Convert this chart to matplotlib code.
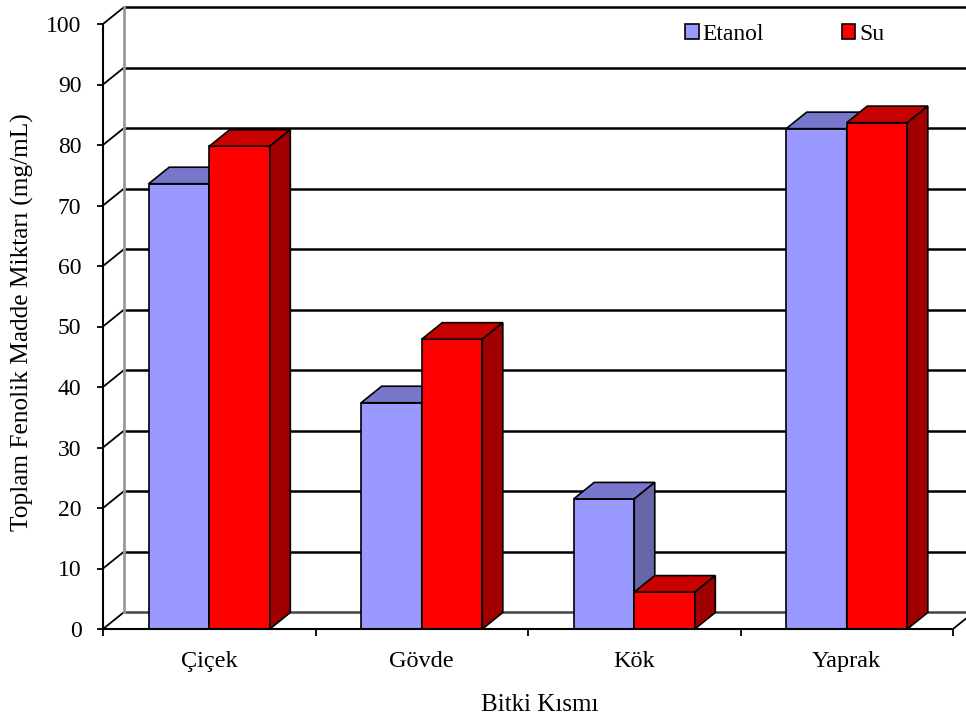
import numpy as np
import matplotlib.pyplot as plt
from matplotlib.patches import Polygon, Patch

plt.rcParams['font.family'] = ['Liberation Serif', 'DejaVu Serif']

parts = ["Çiçek", "Gövde", "Kök", "Yaprak"]
etanol = [73.6, 37.4, 21.5, 82.7]
su = [79.8, 47.9, 6.1, 83.7]
series_names = ["Etanol", "Su"]

# front, top and side face colours for each series
blue_faces = ("#9999FF", "#7777CC", "#6666A8")
red_faces = ("#FF0000", "#C80000", "#A00000")

dx, dy = 0.0965, 2.73   # oblique depth of the 3-D walls and bars
width = 0.285

fig = plt.figure(figsize=(9.66, 7.17), dpi=100)
ax = fig.add_axes([103 / 966, 88 / 717, 850 / 966, 605 / 717])
ax.set_xlim(-0.5, 3.5)
ax.set_ylim(0, 100)

# back wall gridlines, side wall diagonals and floor edges
levels = np.arange(0, 101, 10)
for v in levels:
    ax.plot([-0.5 + dx, 3.5 + dx + 0.2], [v + dy, v + dy],
            color="black" if v else "#444444", lw=1.8, clip_on=False, zorder=1)
    ax.plot([-0.5, -0.5 + dx], [v, v + dy], color="black", lw=1.3,
            clip_on=False, zorder=1)
ax.plot([-0.5 + dx, -0.5 + dx], [dy, 100 + dy], color="#999999", lw=2,
        clip_on=False, zorder=1)
ax.plot([3.5, 3.5 + dx], [0, dy], color="black", lw=1.3, clip_on=False, zorder=1)

x = np.arange(len(parts))
for vals, offset, (front, top, side) in [(etanol, -width, blue_faces),
                                         (su, 0.0, red_faces)]:
    bars = ax.bar(x + offset, vals, width, align="edge", color=front,
                  edgecolor="black", lw=1.2, zorder=3, clip_on=False)
    for b in bars:
        x0 = b.get_x()
        x1 = x0 + b.get_width()
        h = b.get_height()
        ax.add_patch(Polygon([(x0, h), (x0 + dx, h + dy), (x1 + dx, h + dy), (x1, h)],
                             closed=True, fc=top, ec="black", lw=1.2,
                             zorder=3, clip_on=False))
        ax.add_patch(Polygon([(x1, 0), (x1 + dx, dy), (x1 + dx, h + dy), (x1, h)],
                             closed=True, fc=side, ec="black", lw=1.2,
                             zorder=3, clip_on=False))

for s in ["top", "right"]:
    ax.spines[s].set_visible(False)
for s in ["left", "bottom"]:
    ax.spines[s].set_linewidth(1.5)
    ax.spines[s].set_zorder(4)

ax.set_yticks(levels)
ax.tick_params(axis="y", labelsize=17, length=4.5, width=1.3, pad=11)
ax.set_xticks([-0.5, 0.5, 1.5, 2.5, 3.5])
ax.set_xticklabels([])
ax.set_xticks(x, minor=True)
ax.set_xticklabels(parts, minor=True)
ax.tick_params(axis="x", which="major", length=5, width=1.3)
ax.tick_params(axis="x", which="minor", length=0, labelsize=17.5, pad=16)

fig.text(22 / 966, 1 - 322 / 717, "Toplam Fenolik Madde Miktarı (mg/mL)",
         rotation=90, ha="center", va="center", fontsize=18.3)
fig.text(540 / 966, 1 - 716 / 717, "Bitki Kısmı", ha="center", va="bottom",
         fontsize=18)

handles = [Patch(fc=blue_faces[0], ec="black", lw=1.2),
           Patch(fc=red_faces[0], ec="black", lw=1.2)]
fig.legend(handles, series_names, ncol=2, frameon=False, loc="center left",
           bbox_to_anchor=(685 / 966, 1 - 34 / 717), borderpad=0, borderaxespad=0,
           handlelength=0.58, handleheight=0.58, handletextpad=0.15,
           columnspacing=3.3, fontsize=17)

fig.savefig("out.png", dpi=100)
